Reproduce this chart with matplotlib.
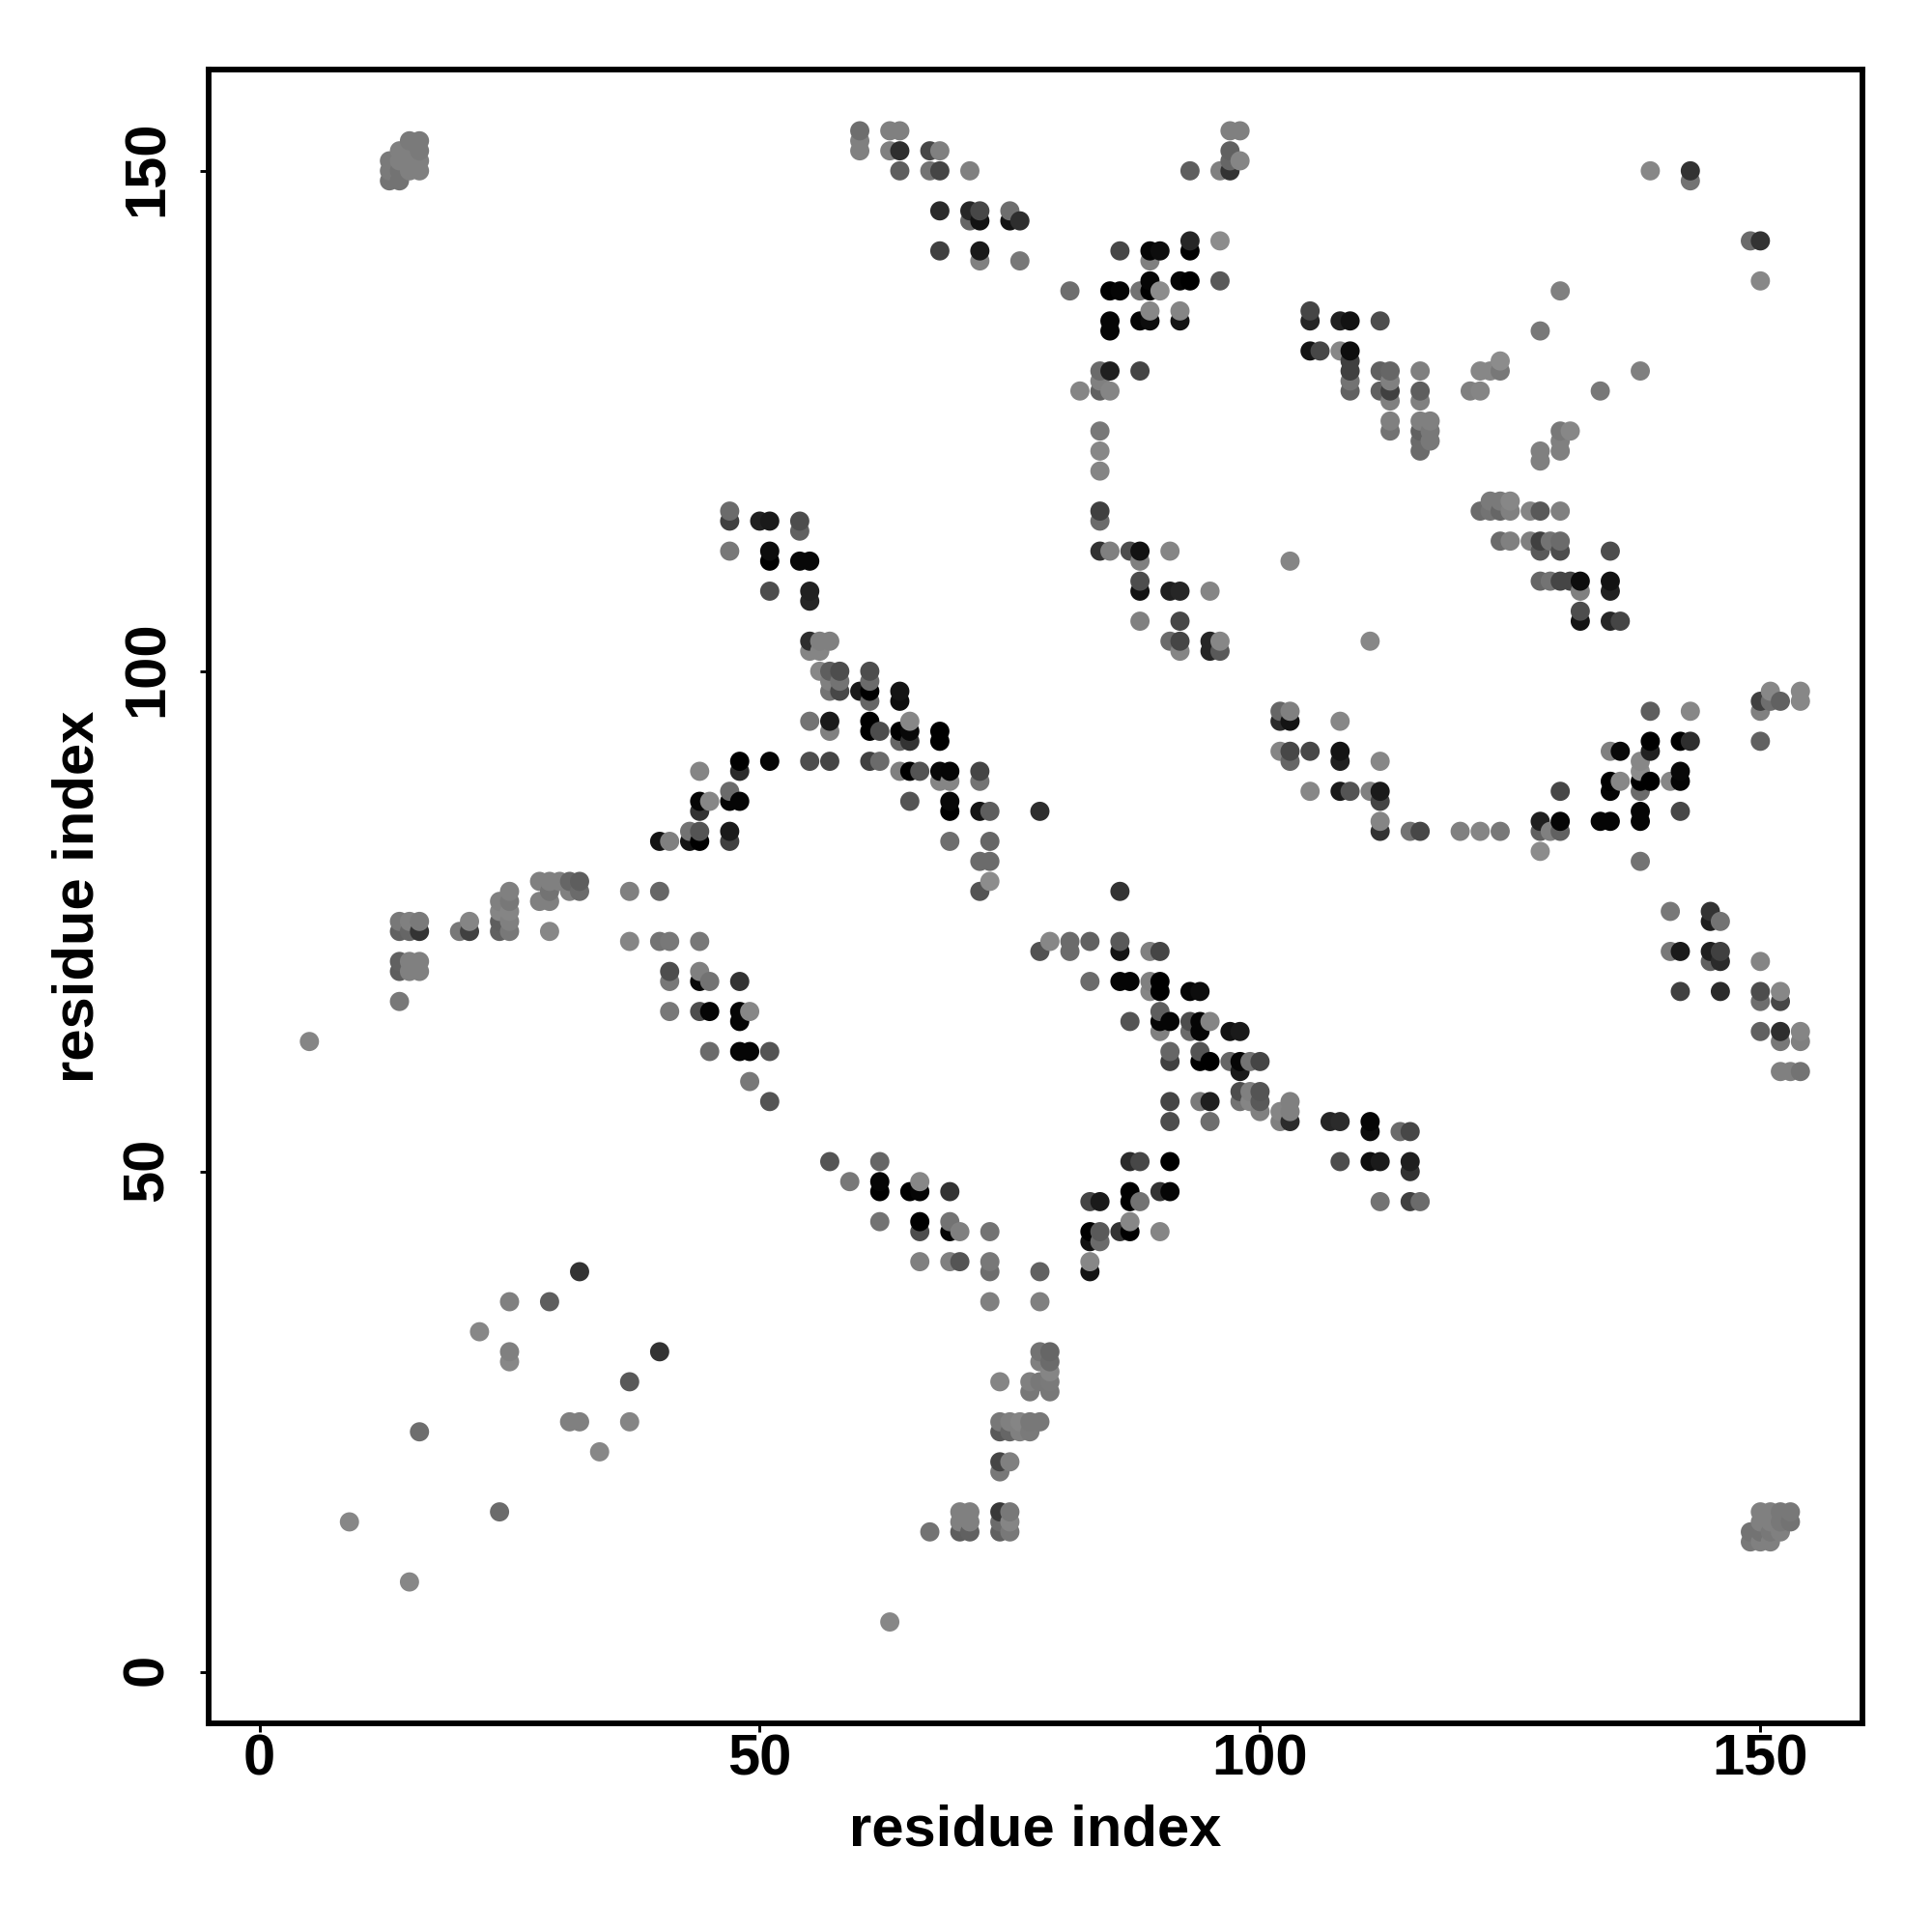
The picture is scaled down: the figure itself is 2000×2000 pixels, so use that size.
import matplotlib
matplotlib.use("Agg")
import matplotlib.pyplot as plt
import matplotlib.transforms as mtrans
import numpy as np

plt.rcParams['font.family'] = ['Liberation Sans', 'DejaVu Sans']
plt.rcParams['font.weight'] = 'bold'

# residue contacts, same order in all three lists
res_x = [
    15,16, 14,15,16, 13,14,15,16, 13,14,15,16, 13,14,
    47, 47,50, 47,
    60,63,64, 60, 60,63,64,67,68, 64,67,68,71, 68,71,72,75, 71,72,75,76, 68,72, 72,76,
    97,98, 97, 98,97, 93,96,97, 93,96, 86,89,90,93, 89, 89,92,93,96, 81,85,86,88,89,90,
    89,92, 85,88,89,92, 85, 105, 105, 105,106, 84,85,88, 84, 82,84,85, 84, 84, 84, 84, 84,
    84,85,87,88,91, 88,103, 88, 88,91,92,95, 88,92, 51,54, 54, 51, 51,54,55, 51,55, 55,
    139,143, 143, 149,150, 150, 130, 108,109,112, 128, 108,109, 109,124,
    109,112,113,116,122,123,124,138, 109,113, 109,112,113,116,121,122,134, 113,116,
    113,116,117, 113,116,117,130,131, 116,117,130, 116,128,130, 128, 123,124,125,
    122,123,124,125,127,128,130, 124,125,127,128,129,130, 128,130,135,
    128,129,130,131,132,135, 132,135, 132, 132,135,136,
    48,51, 44,48, 47, 44,45,47,48, 44, 43,44,47, 40,41,43,44,47,
    28,29,30,31,32, 25,29,31,32,37,40, 24,25,28,29, 24,25, 14,15,16,21,24,25,
    14,15,16,20,21,24,25,29, 37,40,41,44, 14,15,16, 14,15,16,41,44, 41,44,45,48, 14,
    41,44,45,48,49, 48, 5, 45,48,49, 49,
    55,56,57,91,92,95,96, 55,56,92,95,96, 56,57,58,61, 57,58,61, 57,58,60,61,64, 61,64,
    55,57,61,65, 57,61,62,64,65,68, 64,65,68, 55,57,61,62, 64,65,66,68,69,72, 68,69,72,
    65,69, 69,72,73,78, 69,73, 72,73, 73, 72,86, 79,81,83,86, 78,81,86,89,90,
    83,86,87,89,90, 89,90,93,94, 90, 87,90,91,93,94,95, 90,93,94,97,98, 51,91,94,
    91,94,95,97,98,99,100, 98, 98,99,100, 51,91,94,95,98,99,100,103, 100,102,103,
    91,95,102,103, 57,62,87,88,91, 102,103, 102,103, 102,103,105, 103, 105,
    111, 151,154, 150,151,152,154, 139,143,150, 108, 139,142,143,150, 108,135,136,139,
    108,112,138, 138,142, 135,136,138,139,141,142, 108,109,111,112,130,135,138, 112,
    138,142, 112,128,130,134,135,138, 112,115,116,120,122,124,128,129,130, 128, 138,
    141,145, 145,146, 141,142,145,146, 145,146,150, 142,146,150,152, 150,152, 150,152,154,
    152,154, 152,153,154, 107,108,111, 111,114,115, 108,111,112,115,
    32, 25,29, 22, 25,40, 25, 37, 31,32,37, 16, 34, 24, 9, 15,
    59,62,66, 62,65,66,69,87,90,91, 83,84,87,88, 62,66,69,87, 66,69,70,73,83,84,86,87,90,
    83,84, 66,69,70,73,83, 73,78,83, 73,78, 78,79, 78,79, 79, 74,77,78,79, 77,79,
    74,75,76,77,78, 74,75,76,77, 74,75, 74, 70,71,74,75, 70,71,74,75, 67,70,71,74,75, 63,
    115, 112,115,116, 150,151,152,153, 150,151,152,153, 149,150,151,152, 149,150,151,
]
res_y = [
    153,153, 152,152,152, 151,151,151,151, 150,150,150,150, 149,149,
    116, 115,115, 112,
    154,154,154, 153, 152,152,152,152,152, 150,150,150,150, 146,146,146,146, 145,145,145,145, 142,142, 141,141,
    154,154, 152, 151,151, 150,150,150, 143,143, 142,142,142,142, 141, 139,139,139,139, 138,138,138,138,138,138,
    136,136, 135,135,135,135, 134, 136, 135, 132,132, 130,130,130, 129, 128,128,128, 124, 122, 120, 116, 115,
    112,112,112,112,112, 111,111, 109, 108,108,108,108, 105,105, 115,115, 114, 112, 111,111,111, 108,108, 107,
    150,150, 149, 143,143, 139, 138, 135,135,135, 134, 132,132, 131,131,
    130,130,130,130,130,130,130,130, 129,129, 128,128,128,128,128,128,128, 127,127,
    125,125,125, 124,124,124,124,124, 123,123,123, 122,122,122, 121, 117,117,117,
    116,116,116,116,116,116,116, 113,113,113,113,113,113, 112,112,112,
    109,109,109,109,109,109, 108,108, 106, 105,105,105,
    91,91, 90,90, 88, 87,87,87,87, 86, 84,84,84, 83,83,83,83,83,
    79,79,79,79,79, 78,78,78,78,78,78, 77,77,77,77, 76,76, 75,75,75,75,75,75,
    74,74,74,74,74,74,74,74, 73,73,73,73, 71,71,71, 70,70,70,70,70, 69,69,69,69, 67,
    66,66,66,66,66, 65, 63, 62,62,62, 59,
    103,103,103,103,103,103,103, 102,102,102,102,102, 100,100,100,100, 99,99,99, 98,98,98,98,98, 97,97,
    95,95,95,95, 94,94,94,94,94,94, 93,93,93, 91,91,91,91, 90,90,90,90,90,90, 89,89,89,
    87,87, 86,86,86,86, 83,83, 81,81, 79, 78,78, 73,73,73,73, 72,72,72,72,72,
    69,69,69,69,69, 68,68,68,68, 66, 65,65,65,65,65,65, 64,64,64,64,64, 62,62,62,
    61,61,61,61,61,61,61, 60, 58,58,58, 57,57,57,57,57,57,57,57, 56,56,56,
    55,55,55,55, 51,51,51,51,51, 96,96, 95,95, 92,92,92, 91, 88,
    103, 98,98, 97,97,97,97, 96,96,96, 95, 93,93,93,93, 92,92,92,92,
    91,91,91, 90,90, 89,89,89,89,89,89, 88,88,88,88,88,88,88, 87,
    86,86, 85,85,85,85,85,85, 84,84,84,84,84,84,84,84,84, 82, 81,
    76,76, 75,75, 72,72,72,72, 71,71,71, 68,68,68,68, 67,67, 64,64,64,
    63,63, 60,60,60, 55,55,55, 54,54,54, 51,51,51,51,
    40, 37,37, 34, 32,32, 31, 29, 25,25,25, 24, 22, 16, 15, 9,
    49,49,49, 48,48,48,48,48,48,48, 47,47,47,47, 45,45,45,45, 44,44,44,44,44,44,44,44,44,
    43,43, 41,41,41,41,41, 40,40,40, 37,37, 32,32, 31,31, 30, 29,29,29,29, 28,28,
    25,25,25,25,25, 24,24,24,24, 21,21, 20, 16,16,16,16, 15,15,15,15, 14,14,14,14,14, 5,
    50, 47,47,47, 16,16,16,16, 15,15,15,15, 14,14,14,14, 13,13,13,
]
shade = [
    .48,.48, .5,.5,.48, .48,.5,.5,.5, .48,.45,.5,.5, .45,.45,
    .42, .25,.13, .47,
    .43,.5,.5, .5, .5,.5,.18,.28,.5, .37,.45,.27,.5, .17,.15,.28,.43, .4,.07,.08,.18, .25,.1, .5,.47,
    .5,.5, .38, .52,.4, .37,.5,.2, .15,.55, .28,.02,.05,0, .5, .02,.02,0,.35, .43,0,.02,.45,0,.55,
    .53,.52, .02,.02,.05,.08, .02, .27, .15, .08,.28, .42,.12,.27, .5, .52,.38,.52, .47, .53, .52, .25, .42,
    .2,.5,.3,.07,.52, .5,.52, .3, .07,.12,.15,.52, .5,.28, .1,.3, .38, .05, 0,.03,.03, .3,.13, .15,
    .53,.2, .45, .42,.2, .53, .5, .13,.07,.3, .47, .53,.05, .25,.55,
    .25,.38,.4,.5,.53,.53,.47,.5, .45,.5, .38,.38,.25,.37,.5,.52,.47, .5,.5,
    .5,.5,.5, .45,.38,.47,.47,.53, .42,.47,.5, .42,.5,.5, .5, .48,.48,.53,
    .42,.45,.4,.5,.52,.35,.5, .42,.5,.5,.25,.45,.42, .35,.3,.3,
    .4,.45,.27,.27,.05,.07, .5,.13, .3, .08,.15,.27,
    0,.02, .52,.17, .42, .02,.53,.02,.02, .2, .45,.33,.1, .08,.5,.08,0,.25,
    .5,.5,.5,.4,.37, .5,.45,.5,.42,.5,.4, .5,.47,.5,.5, .52,.52, .47,.5,.48,.52,.37,.5,
    .38,.4,.2,.47,.25,.38,.47,.53, .52,.45,.47,.47, .38,.5,.5, .37,.5,.5,.3,.5, .47,.03,.45,.2, .47,
    .47,.3,.02,.02,.53, .02, .52, .42,.02,.02, .47,
    .18,.5,.5,.42,.27,.15,.53, .52,.52,.52,.15,.35, .53,.37,.3,.3, .5,.45,.42, .45,.28,.1,0,.08, .4,.05,
    .45,.1,0,.53, .5,0,.3,0,.03,0, .4,.2,0, .3,.27,.25,.42, .5,0,.33,.03,.02,.27, .52,.52,.45,
    .33,.03, 0,.08,.37,.18, .43,.4, .42,.42, .55, .33,.2, .53,.42,.38,.35, .32,.42,.08,.5,.27,
    .42,.02,.02,.5,0, .52,0,.02,.05, .37, .33,.02,.02,.3,.02,.52, .5,.42,.02,.07,.1, .33,.4,.33,
    .25,0,0,.4,.02,.45,.27, .1, .3,.5,.33, .33,.27,.48,.12,.45,.52,.35,.5, .5,.52,.5,
    .3,.43,.5,.17, .33,.4,.17,.28,0, .4,.5, .17,.08, .52,.28,.28, .4, .53,
    .53, .53,.53, .25,.43,.38,.53, .37,.53,.5, .53, 0,0,.18,.38, .08,.5,.03,.13,
    .13,.53,.53, .55,.03, 0,.53,0,0,.53,.02, .1,.33,.5,.1,.28,.02,.42, .27,
    .02,.28, .52,.12,.02,.02,.02,.02, .2,.45,.28,.5,.52,.47,.38,.5,.38, .55, .45,
    .47,.2, .12,.45, .47,.1,.12,.25, .38,.17,.52, .25,.17,.3,.53, .43,.28, .38,.18,.52,
    .47,.5, .5,.5,.45, .15,.17,.02, .05,.42,.28, .3,.05,.1,.12,
    .2, .5,.37, .53, .5,.2, .53, .35, .5,.5,.52, .43, .53, .42, .53, .53,
    .47,.02,.53, 0,0,.02,.2,0,.2,.02, .27,.1,0,.45, .45,0,.45,.53, .3,.02,.5,.45,0,.35,.2,0,.52,
    .07,.42, .5,.5,.33,.47,.53, .43,.38,.08, .5,.5, .45,.4, .5,.42, .52, .52,.5,.47,.48, .47,.47,
    .47,.5,.52,.47,.47, .35,.4,.5,.48, .27,.5, .47, .5,.5,.22,.47, .5,.5,.42,.52, .45,.37,.38,.38,.47, .53,
    .2, .45,.25,.42, .5,.5,.47,.47, .5,.5,.47,.45, .45,.45,.47,.5, .47,.5,.5,
]
ticks = [0, 50, 100, 150]

order = np.lexsort((res_y, res_x))
x = np.array(res_x)[order]
y = np.array(res_y)[order]
g = np.array(shade)[order]

fig = plt.figure(figsize=(20, 20), dpi=100)
ax = fig.add_axes([216.3 / 2000, 1 - 1784 / 2000, (1928 - 216.3) / 2000, (1784 - 72) / 2000])
ax.scatter(x, y, s=205, c=[str(v) for v in g], linewidths=0, zorder=3)

ax.set_xlim(-5.04, 160.2)
ax.set_ylim(-5.13, 160.12)
ax.set_xticks(ticks)
ax.set_yticks(ticks)
ax.tick_params(axis='x', length=6.3, width=2.1, labelsize=43, pad=1)
ax.tick_params(axis='y', length=6.3, width=2.1, labelsize=43, pad=19.5)
# rotated labels sit a little low otherwise
nudge = mtrans.ScaledTranslation(0, 2.5 / 100, fig.dpi_scale_trans)
for lab in ax.get_yticklabels():
    lab.set_rotation(90)
    lab.set_va('center')
    lab.set_transform(lab.get_transform() + nudge)
for s in ax.spines.values():
    s.set_linewidth(4.2)
ax.set_xlabel('residue index', fontsize=43, fontweight='bold', labelpad=13)
ax.set_ylabel('residue index', fontsize=43, fontweight='bold', labelpad=12)

fig.savefig('out.png', dpi=100)
